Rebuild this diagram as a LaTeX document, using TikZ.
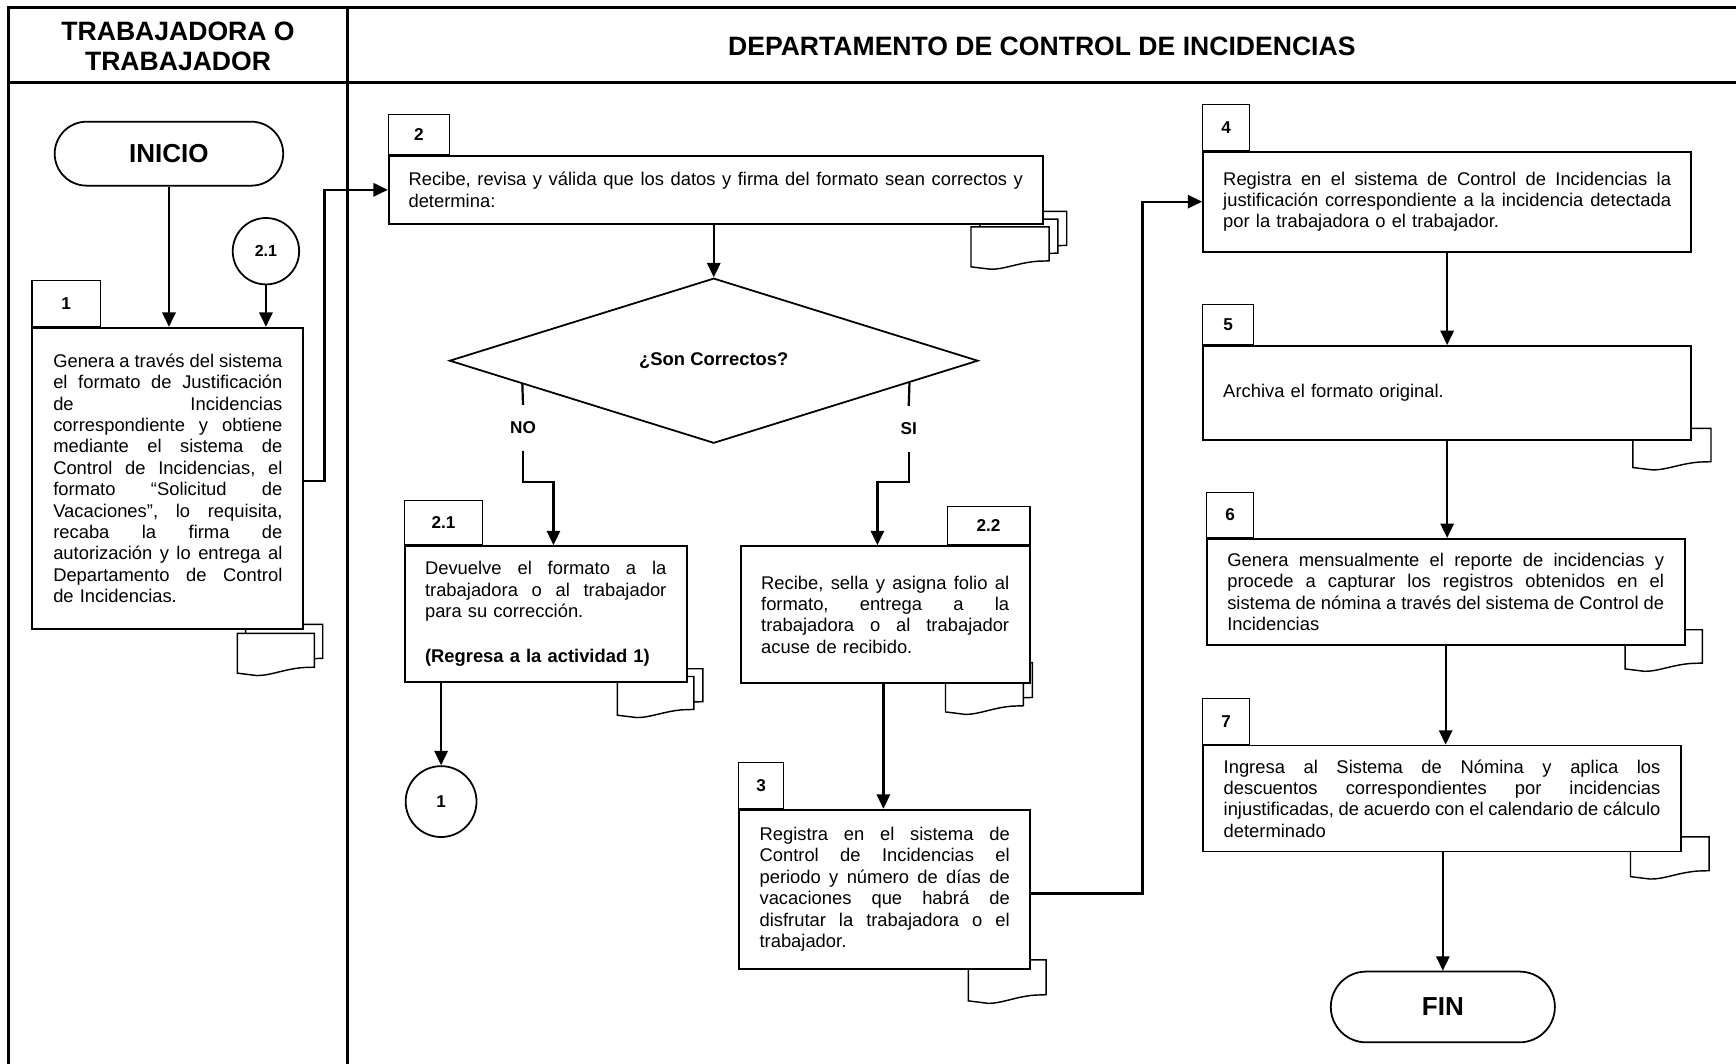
\documentclass[tikz,border=0pt]{standalone}
\usepackage{fontspec}
\setmainfont{Liberation Sans}
\usetikzlibrary{arrows.meta,shapes.geometric,shapes.misc,calc}

% font sizes (1 unit = 1pt)
\newcommand{\fcbody}{\fontsize{16.6}{19.3}\selectfont}
\newcommand{\fchead}{\fontsize{24}{27}\selectfont\bfseries}
\newcommand{\fctab}{\fontsize{15.5}{18}\selectfont\bfseries}
\newcommand{\fcterm}{\fontsize{23.5}{26}\selectfont\bfseries}
\newcommand{\fcsmall}{\fontsize{14.5}{17}\selectfont\bfseries}
\newcommand{\fcdec}{\fontsize{16.6}{19}\selectfont\bfseries}
% one fully justified line, \fcw wide (set at the start of each box text)
\newcommand{\fcw}{100pt}
\newcommand{\jl}[1]{\leavevmode\hbox to \fcw{\frenchspacing\spaceskip=0.278em plus 1fil minus 0.09em\relax #1}}
% document symbol: top-left corner, width, height
\newcommand{\fcdoc}[4]{%
  \path[docshape] (#1,#2) -- (#1+#3,#2) -- (#1+#3,#2+0.85*#4)
    -- (#1+0.85*#3,#2+0.86*#4)
    .. controls (#1+0.6*#3,#2+0.9*#4) and (#1+0.42*#3,#2+1.07*#4) .. (#1+0.25*#3,#2+1.06*#4)
    .. controls (#1+0.12*#3,#2+1.05*#4) .. (#1,#2+#4) -- cycle;}

\tikzset{
  lane/.style={line width=2.5pt},
  actbox/.style={draw, rectangle, line width=1.6pt, fill=white, inner sep=0pt,
    align=left, font=\fcbody, text width=#1, execute at begin node={\renewcommand{\fcw}{#1}}},
  tabbox/.style={draw, rectangle, line width=1pt, inner sep=0pt, font=\fctab},
  flow/.style={line width=2pt, -{Triangle[length=13pt,width=12pt]}},
  plainline/.style={line width=2pt},
  docshape/.style={draw, line width=1.3pt, fill=white},
  term/.style={draw, rounded rectangle, line width=1.6pt, inner sep=0pt, font=\fcterm},
  conn/.style={draw, circle, line width=1.6pt, inner sep=0pt},
  decision/.style={draw, diamond, line width=1.6pt, inner sep=0pt, fill=white, font=\fcdec},
  branch/.style={inner sep=0pt, minimum height=41pt, font=\fctab},
}

\begin{document}
\begin{tikzpicture}[x=1pt, y=-1pt]
\fill[white] (0,0) rectangle (1568,961);
\useasboundingbox (0,0) rectangle (1568,961);

% swimlane frame
\draw[lane] (7.6,965) -- (7.6,6.6) -- (1572,6.6);
\draw[lane] (7.6,74.4) -- (1572,74.4);
\draw[lane] (313.9,6.6) -- (313.9,965);
\node[font=\fchead, align=center] (hdrA) at (160.8,41.5) {TRABAJADORA O\\TRABAJADOR};
\node[font=\fchead] (hdrB) at (941,42) {DEPARTAMENTO DE CONTROL DE INCIDENCIAS};

% document symbols (behind the activity boxes)
\fcdoc{221.9}{564}{69.6}{36}
\fcdoc{214.4}{572}{69.6}{36}
\fcdoc{893}{191}{70.5}{36}
\fcdoc{885}{198}{70.5}{36}
\fcdoc{877}{205}{70.5}{36}
\fcdoc{565.6}{604}{69.2}{35}
\fcdoc{557.6}{611}{69.2}{35}
\fcdoc{862}{598.5}{70.4}{37}
\fcdoc{854}{606}{70.4}{37}
\fcdoc{874.7}{867}{70.1}{37}
\fcdoc{1474.8}{386.9}{70.6}{35.4}
\fcdoc{1467.8}{568.8}{69.8}{35.4}
\fcdoc{1472.7}{755.8}{71}{36}

% terminators and connectors
\node[term, minimum width=206.4pt, minimum height=57.8pt] (ini) at (152.6,138.8) {INICIO};
\node[term, minimum width=202.4pt, minimum height=63.9pt] (fin) at (1303.2,909.5) {FIN};
\node[conn, minimum size=60pt, font=\fcsmall] (c21) at (240.2,226.9) {2.1};
\node[conn, minimum size=64pt, font=\fctab] (c1) at (398.4,724) {1};

% activity boxes
\node[actbox=207pt, minimum width=244.8pt, minimum height=272pt] (b1) at (151.6,432) {%
\jl{Genera a través del sistema}\\
\jl{el formato de Justificación}\\
\jl{de Incidencias}\\
\jl{correspondiente y obtiene}\\
\jl{mediante el sistema de}\\
\jl{Control de Incidencias, el}\\
\jl{formato “Solicitud de}\\
\jl{Vacaciones”, lo requisita,}\\
\jl{recaba la firma de}\\
\jl{autorización y lo entrega al}\\
\jl{Departamento de Control}\\
de Incidencias.};

\node[actbox=555pt, minimum width=590.8pt, minimum height=61.7pt] (b2) at (646.5,171.45) {%
\jl{Recibe, revisa y válida que los datos y firma del formato sean correctos y}\\
determina:};

\node[decision, minimum width=477.4pt, minimum height=91.3pt] (dia) at (644.7,325.8) {¿Son Correctos?};
\node[branch] (no) at (472.4,386.4) {NO};
\node[branch] (si) at (820.8,387.4) {SI};

\node[actbox=218pt, minimum width=254.8pt, minimum height=122.5pt] (b21) at (492.9,554.45) {%
\jl{Devuelve el formato a la}\\
\jl{trabajadora o al trabajador}\\
para su corrección.\\[21pt]
\textbf{(Regresa a la actividad 1)}};

\node[actbox=224pt, minimum width=261pt, minimum height=124pt] (b22) at (799.5,555.2) {%
\jl{Recibe, sella y asigna folio al}\\
\jl{formato, entrega a la}\\
\jl{trabajadora o al trabajador}\\
acuse de recibido.};

\node[actbox=226pt, minimum width=263.1pt, minimum height=143.7pt] (b3) at (799.05,803.15) {%
\jl{Registra en el sistema de}\\
\jl{Control de Incidencias el}\\
\jl{periodo y número de días de}\\
\jl{vacaciones que habrá de}\\
\jl{disfrutar la trabajadora o el}\\
trabajador.};

\node[actbox=404.5pt, minimum width=441pt, minimum height=90.3pt] (b4) at (1307.1,182.15) {%
\jl{Registra en el sistema de Control de Incidencias la}\\
\jl{justificación correspondiente a la incidencia detectada}\\
por la trabajadora o el trabajador.};

\node[actbox=404.5pt, minimum width=441pt, minimum height=84.9pt] (b5) at (1307.1,354.95) {%
Archiva el formato original.};

\node[actbox=394.5pt, minimum width=431.7pt, minimum height=95.9pt] (b6) at (1305.75,534.65) {%
\jl{Genera mensualmente el reporte de incidencias y}\\
\jl{procede a capturar los registros obtenidos en el}\\
\jl{sistema de nómina a través del sistema de Control de}\\
Incidencias};

\node[actbox=394.5pt, minimum width=431.8pt, minimum height=95.6pt] (b7) at (1302.5,721.2) {%
\jl{Ingresa al Sistema de Nómina y aplica los}\\
\jl{descuentos correspondientes por incidencias}\\
\jl{injustificadas, de acuerdo con el calendario de cálculo}\\
determinado};

% activity number tabs
\node[tabbox, anchor=south west, minimum width=61.8pt, minimum height=41.6pt] (t1) at (b1.north west) {1};
\node[tabbox, anchor=south west, minimum width=55.1pt, minimum height=36.1pt] (t2) at (b2.north west) {2};
\node[tabbox, anchor=south west, minimum width=70.8pt, minimum height=40.2pt] (t21) at (b21.north west) {2.1};
\node[tabbox, anchor=south east, minimum width=74.8pt, minimum height=34.2pt] (t22) at (b22.north east) {2.2};
\node[tabbox, anchor=south west, minimum width=40.5pt, minimum height=41.3pt] (t3) at (b3.north west) {3};
\node[tabbox, anchor=south west, minimum width=42.4pt, minimum height=41.5pt] (t4) at (b4.north west) {4};
\node[tabbox, anchor=south west, minimum width=46.1pt, minimum height=36.1pt] (t5) at (b5.north west) {5};
\node[tabbox, anchor=south west, minimum width=42.8pt, minimum height=40.5pt] (t6) at (b6.north west) {6};
\node[tabbox, anchor=south west, minimum width=42.4pt, minimum height=41.4pt] (t7) at (b7.north west) {7};

% flow connectors
\draw[flow] (ini.south) -- (ini.south |- b1.north);
\draw[flow] (c21.south) -- (c21.south |- b1.north);
\coordinate (j12) at (293.1,434.5);
\draw[flow] (b1.east |- j12) -- (j12) |- (b2.west);
\draw[flow] (b2.south -| dia.north) -- (dia.north);
\draw[plainline] ($(dia.west)!0.278!(dia.south)$) -- (no.north);
\draw[flow] (no.south) -- ++(0,28) -| ([xshift=7pt]b21.north);
\draw[plainline] ($(dia.east)!0.262!(dia.south)$) -- (si.north);
\draw[flow] (si.south) -- ++(0,27) -| ([xshift=-7pt]b22.north);
\draw[flow] (c1.north |- b21.south) -- (c1.north);
\draw[flow] ([xshift=-1.6pt]b22.south) -- ([xshift=-1.6pt]b22.south |- b3.north);
\coordinate (j34) at (1032,807);
\draw[flow] (b3.east |- j34) -- (j34) |- (b4.west);
\draw[flow] (b4.south) -- (b4.south |- b5.north);
\draw[flow] (b5.south) -- (b5.south |- b6.north);
\draw[flow] (b6.south) -- (b6.south |- b7.north);
\draw[flow] (b7.south -| fin.north) -- (fin.north);
\end{tikzpicture}
\end{document}
